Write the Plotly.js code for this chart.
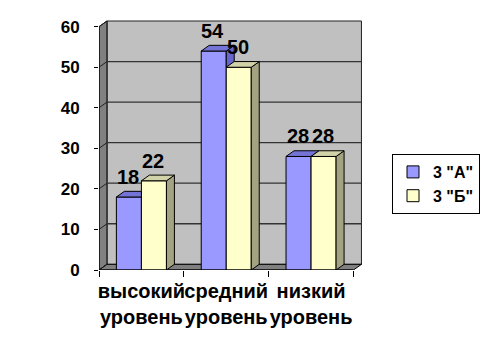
<!DOCTYPE html>
<html><head><meta charset="utf-8">
<script src="https://cdn.plot.ly/plotly-3.0.1.min.js"></script>
<style>html,body{margin:0;padding:0;background:#fff}#chart{width:484px;height:362px}</style>
</head><body><div id="chart"></div>
<script>
// ---- data ----
const categories = ["высокий уровень", "средний уровень", "низкий уровень"];
const tickLabels = ["высокий<br>уровень", "средний<br>уровень", "низкий<br>уровень"];
const seriesNames = ['3 "А"', '3 "Б"'];
const valuesA = [18, 54, 28];
const valuesB = [22, 50, 28];
const yTicks = [0, 10, 20, 30, 40, 50, 60];

// ---- styling / 3D geometry ----
const yMax = 60;
const dx = 0.094;   // depth offset in category units
const dy = 1.4;     // depth offset in value units
const bargap = 0.41;
const w = (1 - bargap) / 2;
const FONT = "Arial, 'Liberation Sans', sans-serif";
const colA = {front: "#9999FF", top: "#7474D6", side: "#6666CC"};
const colB = {front: "#FFFFCC", top: "#D2D2A8", side: "#A3A382"};
const xIdx = categories.map((c, i) => i);

function poly(pts, fill, layer) {
  const path = "M" + pts.map(p => p[0] + "," + p[1]).join("L") + "Z";
  return {type: "path", xref: "x", yref: "y", path: path, fillcolor: fill,
          line: {color: "#000", width: 1}, layer: layer || "above"};
}
function line(x0, y0, x1, y1, color, width, layer) {
  return {type: "line", xref: "x", yref: "y", x0: x0, y0: y0, x1: x1, y1: y1,
          line: {color: color, width: width}, layer: layer || "below"};
}

const shapes = [];
const L = -0.5, R = categories.length - 0.5;
// back wall
shapes.push(Object.assign(poly([[L + dx, dy], [R + dx, dy], [R + dx, yMax + dy], [L + dx, yMax + dy]], "#C0C0C0", "below"), {line: {color: "#222", width: 1}}));
// left wall
shapes.push(poly([[L, 0], [L + dx, dy], [L + dx, yMax + dy], [L, yMax]], "#808080", "below"));
// floor
shapes.push(poly([[L, 0], [R, 0], [R + dx, dy], [L + dx, dy]], "#808080", "below"));
yTicks.forEach(v => {
  if (v > 0 && v < yMax) shapes.push(line(L + dx, v + dy, R + dx, v + dy, "#333", 1.3));
  shapes.push(line(L, v, L + dx, v + dy, "#222", 1));
});
// front axis lines
shapes.push(line(L, 0, R, 0, "#000", 1, "above"));
shapes.push(line(L, 0, L, yMax, "#000", 1, "below"));

// 3D faces of bars
xIdx.forEach(i => {
  const va = valuesA[i], vb = valuesB[i];
  const aL = i - w, aR = i, bL = i, bR = i + w;
  if (va > vb) shapes.push(poly([[aR, vb], [aR + dx, vb], [aR + dx, va + dy], [aR, va]], colA.side));
  if (vb >= va + dy) shapes.push(poly([[aL, va], [aR, va], [aR, va + dy], [aL + dx, va + dy]], colA.top));
  else shapes.push(poly([[aL, va], [aR, va], [aR + dx, va + dy], [aL + dx, va + dy]], colA.top));
  shapes.push(poly([[bR, 0], [bR + dx, dy], [bR + dx, vb + dy], [bR, vb]], colB.side));
  shapes.push(poly([[bL, vb], [bR, vb], [bR + dx, vb + dy], [bL + dx, vb + dy]], colB.top));
});

// value labels
const annotations = [];
xIdx.forEach(i => {
  annotations.push({x: i - w / 2, y: valuesA[i], text: String(valuesA[i]), showarrow: false,
    xref: "x", yref: "y", yanchor: "bottom", yshift: 7, xshift: -1,
    font: {family: FONT, size: 20, color: "#000", weight: "bold"}});
  annotations.push({x: i + w / 2, y: valuesB[i], text: String(valuesB[i]), showarrow: false,
    xref: "x", yref: "y", yanchor: "bottom", yshift: 7, xshift: -1,
    font: {family: FONT, size: 20, color: "#000", weight: "bold"}});
});

const traces = [
  {type: "bar", name: seriesNames[0], x: xIdx, y: valuesA,
   marker: {color: colA.front, line: {color: "#000", width: 1}}, legendgroup: "a", hoverinfo: "skip"},
  {type: "bar", name: seriesNames[1], x: xIdx, y: valuesB,
   marker: {color: colB.front, line: {color: "#000", width: 1}}, legendgroup: "b", hoverinfo: "skip"}
];

const layout = {
  width: 484, height: 362,
  margin: {l: 99, r: 120, t: 20, b: 92},
  paper_bgcolor: "#fff", plot_bgcolor: "rgba(0,0,0,0)",
  barmode: "group", bargap: bargap, bargroupgap: 0,
  font: {family: FONT, color: "#000"},
  xaxis: {type: "linear", range: [L, R + dx + 0.03], tickvals: xIdx, ticktext: tickLabels,
    tickangle: 0, ticks: "", showgrid: false, zeroline: false, showline: false, ticklabelstandoff: 7,
    tickfont: {family: FONT, size: 20, color: "#000", weight: "bold"},
    minor: {tickvals: [L, 0.5, 1.5, R], ticks: "outside", ticklen: 6, tickcolor: "#000", tickwidth: 1, showgrid: false},
    fixedrange: true},
  yaxis: {range: [0, yMax + dy + 0.25], tickvals: yTicks, ticks: "outside", ticklen: 4,
    tickcolor: "#000", showgrid: false, zeroline: false, showline: false, ticklabelstandoff: 11,
    tickfont: {family: FONT, size: 17, color: "#000", weight: "bold"}, fixedrange: true},
  showlegend: true,
  legend: {xref: "container", yref: "container", x: 392 / 484, y: 1 - 154 / 362,
    xanchor: "left", yanchor: "top", bgcolor: "#fff", bordercolor: "#000", borderwidth: 1,
    traceorder: "grouped", tracegroupgap: 0,
    font: {family: FONT, size: 16, color: "#000", weight: "bold"}},
  shapes: shapes,
  annotations: annotations
};

Plotly.newPlot("chart", traces, layout, {staticPlot: true, displayModeBar: false});
</script>
</body></html>
